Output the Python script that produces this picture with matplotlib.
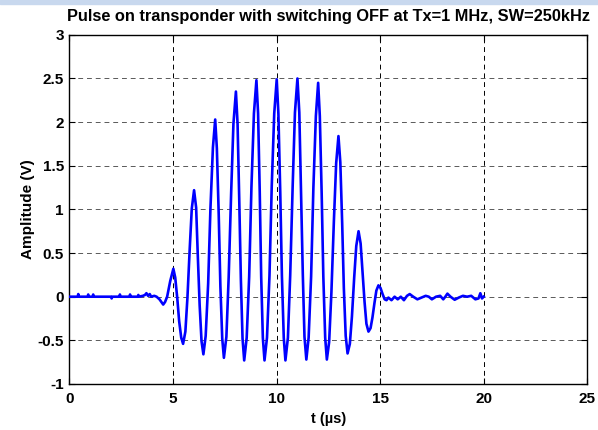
import matplotlib
matplotlib.use('Agg')
import matplotlib.pyplot as plt
import matplotlib.patches as mpatches
import numpy as np

plt.rcParams['font.family'] = ['Liberation Sans', 'DejaVu Sans']
plt.rcParams['font.weight'] = 'bold'

# values: time (us) and amplitude (V)
pre_t = [0.00, 0.40, 0.43, 0.46, 0.88, 0.91, 0.94, 1.12, 1.15, 1.18,
         2.01, 2.04, 2.07, 2.41, 2.44, 2.47, 2.90, 2.93, 2.96, 3.30,
         3.33, 3.36, 3.55, 3.65, 3.72, 3.80, 3.88, 3.95, 4.10, 4.21]
pre_v = [0.00, 0.00, 0.03, 0.00, 0.00, 0.025, 0.00, 0.00, 0.025, 0.00,
         0.00, -0.02, 0.00, 0.00, 0.025, 0.00, 0.00, 0.025, 0.00, 0.00,
         0.02, 0.00, 0.01, 0.02, 0.04, 0.01, 0.03, 0.00, 0.01, 0.00]

pulse_t = [4.35, 4.53, 4.62, 4.72, 4.87,
           5.02, 5.11, 5.21, 5.30, 5.40, 5.49, 5.60, 5.70, 5.81, 5.91,
           6.02, 6.12, 6.20, 6.29, 6.38, 6.47, 6.58, 6.70, 6.81, 6.93,
           7.04, 7.12, 7.21, 7.29, 7.38, 7.46, 7.58, 7.69, 7.81, 7.92,
           8.04, 8.12, 8.20, 8.28, 8.36, 8.44, 8.56, 8.68, 8.79, 8.91,
           9.03, 9.11, 9.19, 9.26, 9.34, 9.42, 9.54, 9.66, 9.77, 9.89,
           10.01, 10.09, 10.18, 10.26, 10.35, 10.43, 10.55, 10.66, 10.78, 10.89,
           11.01, 11.10, 11.18, 11.27, 11.35, 11.44, 11.55, 11.67, 11.78, 11.90,
           12.01, 12.09, 12.18, 12.26, 12.35, 12.43, 12.54, 12.65, 12.77, 12.88,
           12.99, 13.08, 13.17, 13.25, 13.34, 13.43, 13.54, 13.64, 13.75, 13.85,
           13.96, 14.06, 14.15, 14.25, 14.34, 14.44, 14.54, 14.63, 14.73, 14.82,
           14.92, 15.02, 15.12, 15.22, 15.31]
pulse_v = [-0.03, -0.09, -0.06, 0.00, 0.18,
           0.32, 0.22, -0.02, -0.28, -0.47, -0.54, -0.40, -0.01, 0.55, 1.01,
           1.22, 1.02, 0.47, -0.10, -0.51, -0.66, -0.45, 0.15, 1.01, 1.71,
           2.03, 1.70, 0.94, 0.12, -0.48, -0.70, -0.46, 0.22, 1.19, 1.98,
           2.35, 1.98, 1.12, 0.19, -0.48, -0.73, -0.47, 0.23, 1.26, 2.10,
           2.48, 2.10, 1.20, 0.23, -0.47, -0.73, -0.47, 0.24, 1.27, 2.10,
           2.49, 2.10, 1.20, 0.24, -0.47, -0.73, -0.47, 0.24, 1.27, 2.11,
           2.50, 2.11, 1.21, 0.25, -0.46, -0.72, -0.47, 0.23, 1.25, 2.07,
           2.45, 2.07, 1.18, 0.23, -0.47, -0.72, -0.52, 0.05, 0.87, 1.53,
           1.84, 1.54, 0.84, 0.10, -0.45, -0.65, -0.54, -0.23, 0.22, 0.58,
           0.75, 0.61, 0.29, -0.06, -0.31, -0.40, -0.36, -0.24, -0.07, 0.07,
           0.13, 0.10, 0.03, -0.03, -0.04]

tail_t = [15.40, 15.55, 15.70, 15.85, 16.00, 16.15, 16.30, 16.43, 16.60, 16.80,
          17.00, 17.20, 17.35, 17.50, 17.70, 17.90, 18.05, 18.15, 18.25, 18.40,
          18.60, 18.80, 19.00, 19.20, 19.40, 19.60, 19.75, 19.84, 19.92, 20.00]
tail_v = [-0.01, -0.04, 0.00, -0.03, 0.00, -0.04, 0.01, 0.03, 0.00, -0.03,
          -0.01, 0.01, 0.00, -0.03, 0.00, 0.01, -0.03, 0.00, 0.035, 0.00,
          -0.035, -0.01, 0.01, 0.00, 0.01, -0.03, -0.02, 0.04, -0.02, 0.00]

t = np.array(pre_t + pulse_t + tail_t)
v = np.array(pre_v + pulse_v + tail_v)

fig = plt.figure(figsize=(5.98, 4.30), dpi=100)
ax = fig.add_axes([0.116, 0.107, 0.866, 0.812])

# light blue strip at the very top
fig.patches.append(mpatches.Rectangle((0, 0.991), 1, 0.009, transform=fig.transFigure,
                                      color='#c8d8ee', zorder=0))

ax.plot(t, v, color='#0000ff', lw=1.9, zorder=3)

ax.set_xlim(0, 25)
ax.set_ylim(-1, 3)
ax.set_xticks([0, 5, 10, 15, 20, 25])
ax.set_yticks([-1, -0.5, 0, 0.5, 1, 1.5, 2, 2.5, 3])
ax.set_yticklabels(['-1', '-0.5', '0', '0.5', '1', '1.5', '2', '2.5', '3'])
ax.grid(True, color='k', lw=0.7, linestyle=(0, (5, 4)))
ax.yaxis.grid(True, color='0.35')
ax.tick_params(direction='in', length=4, width=0.8, top=True, right=True,
               labelsize=11)
ax.tick_params(axis='x', pad=6)
ax.tick_params(axis='y', pad=4)
for s in ax.spines.values():
    s.set_linewidth(1.0)

ax.set_title('Pulse on transponder with switching OFF at Tx=1 MHz, SW=250kHz',
             fontsize=11.8, fontweight='bold', pad=10)
ax.set_xlabel('t (\u00b5s)', fontsize=10.5, fontweight='bold', labelpad=4)
ax.set_ylabel('Amplitude (V)', fontsize=11, fontweight='bold', labelpad=2)

fig.savefig('out.png', dpi=100)
